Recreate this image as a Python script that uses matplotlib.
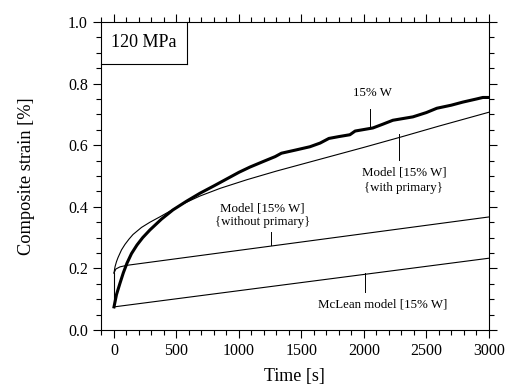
import matplotlib
matplotlib.use("Agg")
import matplotlib.pyplot as plt
import numpy as np
from matplotlib.ticker import MultipleLocator

plt.rcParams['font.family'] = ['Liberation Serif', 'DejaVu Serif']

# Experimental curve 15% W
exp_t = [0, 20, 48, 75, 104, 140, 184, 230, 288, 380, 472, 580, 688, 800, 900, 1000, 1088,
         1200, 1290, 1340, 1450, 1568, 1650, 1720, 1800, 1888, 1930, 2072, 2150, 2232,
         2392, 2500, 2584, 2700, 2792, 2900, 2952, 3000]
exp_v = [0.075, 0.115, 0.152, 0.186, 0.217, 0.248, 0.276, 0.30, 0.325, 0.36, 0.39, 0.418, 0.444,
         0.468, 0.49, 0.512, 0.529, 0.548, 0.563, 0.574, 0.584, 0.595, 0.607, 0.622,
         0.628, 0.634, 0.646, 0.656, 0.668, 0.681, 0.692, 0.706, 0.72, 0.73, 0.74,
         0.75, 0.755, 0.755]

# Model with primary
wp_t = [0, 8, 20, 32, 60, 88, 120, 152, 220, 288, 370, 448, 560, 688, 850, 1064, 1300, 1600,
        2000, 2300, 2600, 3000]
wp_v = [0.185, 0.205, 0.222, 0.235, 0.26, 0.278, 0.295, 0.31, 0.333, 0.35, 0.368, 0.386,
        0.411, 0.435, 0.46, 0.488, 0.516, 0.549, 0.593, 0.627, 0.662, 0.707]

# Model without primary
np_t = [0, 15, 48, 104, 3000]
np_v = [0.185, 0.198, 0.205, 0.21, 0.367]

# McLean model
mc_t = [0, 3000]
mc_v = [0.075, 0.233]

fig = plt.figure(figsize=(5.05, 3.89), dpi=100)
ax = fig.add_axes([0.2, 0.1517, 0.768, 0.7917])

ax.plot(exp_t, exp_v, color='black', lw=2.2, solid_joinstyle='round')
ax.plot(wp_t, wp_v, color='black', lw=0.8)
ax.plot(np_t, np_v, color='black', lw=0.8)
ax.plot(mc_t, mc_v, color='black', lw=0.8)
ax.plot([0, 0], [0.075, 0.185], color='black', lw=0.8)

ax.set_xlim(-104, 3000)
ax.set_ylim(0, 1.0)
ax.xaxis.set_major_locator(MultipleLocator(500))
ax.xaxis.set_minor_locator(MultipleLocator(100))
ax.yaxis.set_major_locator(MultipleLocator(0.2))
ax.yaxis.set_minor_locator(MultipleLocator(0.05))
ax.yaxis.set_major_formatter(matplotlib.ticker.FormatStrFormatter('%.1f'))
ax.tick_params(which='both', direction='out', top=True, right=True, labelsize=11.5,
               width=0.8)
ax.tick_params(which='major', length=6)
ax.tick_params(which='minor', length=3.5)
for s in ax.spines.values():
    s.set_linewidth(0.8)

ax.set_xlabel('Time [s]', fontsize=13, labelpad=6)
ax.set_ylabel('Composite strain [%]', fontsize=13.2, labelpad=24)

# 120 MPa box
ax.plot([0.222, 0.222], [0.864, 1.0], color='black', lw=0.8, transform=ax.transAxes, clip_on=False)
ax.plot([0.0, 0.222], [0.864, 0.864], color='black', lw=0.8, transform=ax.transAxes, clip_on=False)
ax.text(0.111, 0.932, '120 MPa', transform=ax.transAxes, ha='center', va='center', fontsize=13)

fs = 9.3
# 15% W
ax.text(2070, 0.768, '15% W', ha='center', va='center', fontsize=fs)
ax.plot([2050, 2050], [0.657, 0.718], color='black', lw=0.7)
# Model with primary
ax.text(2320, 0.51, 'Model [15% W]', ha='center', va='center', fontsize=fs)
ax.text(2320, 0.462, '{with primary}', ha='center', va='center', fontsize=fs)
ax.plot([2280, 2280], [0.553, 0.638], color='black', lw=0.7)
# Model without primary
ax.text(1190, 0.395, 'Model [15% W]', ha='center', va='center', fontsize=fs)
ax.text(1190, 0.35, '{without primary}', ha='center', va='center', fontsize=fs)
ax.plot([1260, 1260], [0.277, 0.318], color='black', lw=0.7)
# McLean
ax.text(2150, 0.082, 'McLean model [15% W]', ha='center', va='center', fontsize=fs)
ax.plot([2010, 2010], [0.123, 0.185], color='black', lw=0.7)

fig.savefig('out.png', dpi=100)
